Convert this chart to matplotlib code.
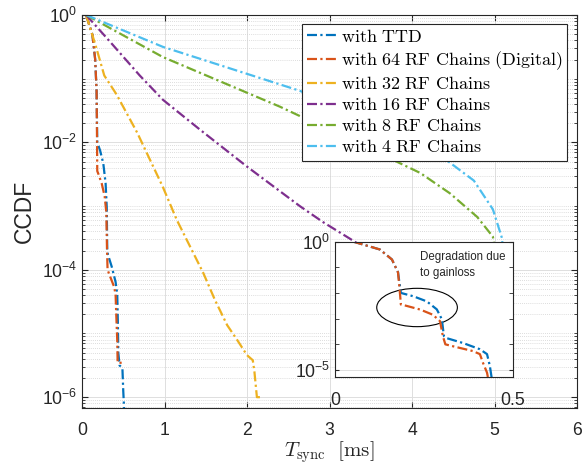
import numpy as np
import matplotlib
matplotlib.use("Agg")
import matplotlib.pyplot as plt
from matplotlib.patches import Ellipse
from matplotlib.ticker import FixedLocator, FuncFormatter, NullFormatter
from matplotlib.font_manager import FontProperties

plt.rcParams['font.family'] = ['Liberation Sans', 'DejaVu Sans']
plt.rcParams['mathtext.fontset'] = 'custom'
plt.rcParams['mathtext.rm'] = 'Liberation Sans'
plt.rcParams['mathtext.it'] = 'Liberation Sans:italic'
plt.rcParams['mathtext.bf'] = 'Liberation Sans:bold'
plt.rcParams['mathtext.sf'] = 'Liberation Sans'

# ---------------- data (x in ms, CCDF given as log10 values) ----------------
labels = [r'$\mathrm{with\ TTD}$',
          r'$\mathrm{with\ 64\ RF\ Chains\ (Digital)}$',
          r'$\mathrm{with\ 32\ RF\ Chains}$',
          r'$\mathrm{with\ 16\ RF\ Chains}$',
          r'$\mathrm{with\ 8\ RF\ Chains}$',
          r'$\mathrm{with\ 4\ RF\ Chains}$']
colors = ['#0072BD', '#D95319', '#EDB120', '#7E2F8E', '#77AC30', '#4DBEEE']

ttd_x = [0.05, 0.126, 0.16, 0.177, 0.185, 0.22, 0.258, 0.286, 0.30, 0.306, 0.314,
         0.36, 0.407, 0.427, 0.435, 0.44, 0.455, 0.49, 0.50, 0.515]
ttd_log = [0, -0.31, -0.7, -1.2, -2.0, -2.13, -2.33, -2.64, -3.02, -3.68, -3.76,
           -3.95, -4.19, -4.38, -4.84, -5.3, -5.5, -5.55, -5.9, -6.3]

rf64_x = [0.05, 0.126, 0.16, 0.177, 0.183, 0.185, 0.20, 0.24, 0.275, 0.295, 0.303,
          0.31, 0.33, 0.387, 0.407, 0.416, 0.427, 0.432, 0.49]
rf64_log = [0, -0.31, -0.7, -1.2, -2.1, -2.45, -2.5, -2.65, -2.85, -3.1, -3.68,
            -4.0, -4.07, -4.26, -4.38, -4.73, -5.1, -5.46, -5.46]

rf32_x = [0.05, 0.17, 0.27, 0.42, 0.67, 0.98, 1.15, 1.47, 1.61, 1.76, 1.88, 2.0,
          2.07, 2.09, 2.12, 2.19]
rf32_log = [0, -0.5, -0.95, -1.25, -1.85, -2.7, -3.22, -4.05, -4.47, -4.87, -5.1,
            -5.34, -5.42, -5.6, -6.0, -6.0]

rf16_x = [0.05, 0.34, 0.70, 0.98, 1.43, 2.0, 2.64, 2.92, 3.27, 3.6]
rf16_log = [0, -0.42, -0.95, -1.33, -1.8, -2.38, -3.0, -3.25, -3.53, -3.8]

rf8_x = [0.05, 0.98, 2.4, 3.73, 4.1, 4.46, 4.79, 4.98, 5.05]
rf8_log = [0, -0.66, -1.44, -2.25, -2.48, -2.8, -3.17, -3.48, -4.0]

rf4_x = [0.05, 0.98, 2.64, 3.6, 4.42, 4.75, 4.98, 5.09, 5.14]
rf4_log = [0, -0.5, -1.19, -1.72, -2.28, -2.6, -3.05, -3.5, -4.2]

series_x = [ttd_x, rf64_x, rf32_x, rf16_x, rf8_x, rf4_x]
series_log = [ttd_log, rf64_log, rf32_log, rf16_log, rf8_log, rf4_log]

xticks_main = [0, 1, 2, 3, 4, 5, 6]
yticks_main = [1e-6, 1e-4, 1e-2, 1e0]
inset_series = [0, 1]  # TTD and Digital

dash = (0, (4.5, 1.5, 1.0, 1.5))
LW = 1.6
W, H = 583, 466

fig = plt.figure(figsize=(W / 100, H / 100), dpi=100)
ax = fig.add_axes([82 / W, 1 - 408 / H, 495 / W, 393 / H])

for xs, ls_, c, lab in zip(series_x, series_log, colors, labels):
    ax.plot(xs, np.power(10.0, ls_), color=c, lw=LW, ls=dash, label=lab)

ax.set_yscale('log')
ax.set_xlim(0, 6)
ax.set_ylim(10 ** -6.17, 1)
ax.set_xticks(xticks_main)
ax.yaxis.set_major_locator(FixedLocator(yticks_main))
minor = [m * 10.0 ** k for k in range(-7, 1) for m in range(1, 10)]
ax.yaxis.set_minor_locator(FixedLocator(minor))
ax.yaxis.set_minor_formatter(NullFormatter())
ax.yaxis.set_major_formatter(FuncFormatter(lambda v, p: r'$10^{%d}$' % round(np.log10(v))))

ax.grid(True, which='major', color='#dedede', lw=0.7, ls='-')
ax.grid(True, which='minor', axis='y', color='#d2d2d2', lw=0.6, ls=(0, (1, 1.5)))
ax.set_axisbelow(True)

for s in ax.spines.values():
    s.set_color('#262626')
    s.set_linewidth(0.8)
ax.tick_params(which='both', direction='in', top=True, right=True, colors='#262626',
               labelsize=12.7, labelcolor='#262626')
ax.tick_params(which='major', length=4)
ax.tick_params(which='minor', length=2)
ax.tick_params(axis='x', pad=10)
ax.tick_params(axis='y', pad=3.5)

ax.set_ylabel('CCDF', fontsize=16.5, color='#262626', labelpad=4)
ax.set_xlabel(r'$T_{\mathrm{sync}}\ \ [\mathrm{ms}]$', fontsize=15, color='#262626',
              math_fontfamily='cm', labelpad=0)

leg = ax.legend(loc='upper right', bbox_to_anchor=(567 / W, 1 - 24 / H),
                bbox_transform=fig.transFigure, borderaxespad=0,
                prop=FontProperties(size=13, math_fontfamily='cm'),
                handlelength=1.75, handletextpad=0.15, labelspacing=0.22,
                borderpad=0.25, fancybox=False, framealpha=1, edgecolor='#262626')
leg.get_frame().set_linewidth(0.8)

# ---------------- inset ----------------
axi = fig.add_axes([335 / W, 1 - 377 / H, 178 / W, 135.5 / H])
for i in inset_series:
    axi.plot(series_x[i], np.power(10.0, series_log[i]), color=colors[i], lw=LW, ls=dash)
axi.set_yscale('log')
axi.set_xlim(0, 0.5)
axi.set_ylim(10 ** -5.27, 1)
axi.set_xticks([0, 0.5])
axi.xaxis.set_major_formatter(FuncFormatter(lambda v, p: '0' if v == 0 else '%g' % v))
axi.yaxis.set_major_locator(FixedLocator([1e-5, 1e0]))
axi.yaxis.set_minor_locator(FixedLocator([1e-4, 1e-3, 1e-2, 1e-1]))
axi.yaxis.set_minor_formatter(NullFormatter())
axi.yaxis.set_major_formatter(FuncFormatter(lambda v, p: r'$10^{%d}$' % round(np.log10(v))))
axi.grid(True, which='major', axis='y', color='#dedede', lw=0.7)
axi.set_axisbelow(True)
for s in axi.spines.values():
    s.set_color('#262626')
    s.set_linewidth(0.8)
axi.tick_params(which='both', direction='in', top=True, right=True, colors='#262626',
                labelsize=12.7, labelcolor='#262626', length=3)
axi.tick_params(axis='x', pad=11, length=0)
axi.tick_params(axis='y', pad=3.5)

axi.text(0.48, 0.93, 'Degradation due\nto gainloss', transform=axi.transAxes,
         fontsize=8.3, va='top', ha='left', linespacing=1.45, color='#262626')
axi.add_patch(Ellipse((0.461, 0.513), 0.453, 0.283, transform=axi.transAxes,
                      fill=False, ec='k', lw=0.8))

fig.savefig('out.png', dpi=100)
